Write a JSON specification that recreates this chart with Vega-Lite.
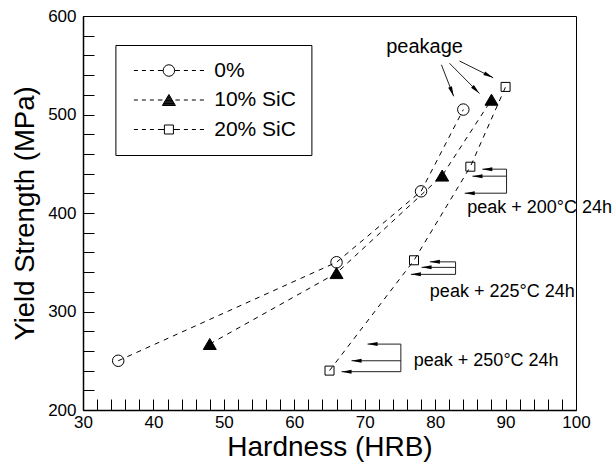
{
  "$schema": "https://vega.github.io/schema/vega-lite/v6.json",
  "width": 493,
  "height": 394,
  "autosize": "none",
  "padding": {"left": 83, "top": 16, "right": 36, "bottom": 54},
  "datasets": {
    "series": [
      {"series": "0%", "x": 35, "y": 250},
      {"series": "0%", "x": 66, "y": 350},
      {"series": "0%", "x": 78, "y": 422},
      {"series": "0%", "x": 84, "y": 505},
      {"series": "10% SiC", "x": 48, "y": 267},
      {"series": "10% SiC", "x": 66, "y": 339},
      {"series": "10% SiC", "x": 81, "y": 438},
      {"series": "10% SiC", "x": 88, "y": 515},
      {"series": "20% SiC", "x": 65, "y": 240},
      {"series": "20% SiC", "x": 77, "y": 352},
      {"series": "20% SiC", "x": 85, "y": 447},
      {"series": "20% SiC", "x": 90, "y": 528}
    ],
    "arrows": [
      {"x": 82.63, "y": 518.5, "x2": 80.89, "y2": 550.5, "dir": 68.7},
      {"x": 86.3, "y": 521.3, "x2": 82.04, "y2": 552.0, "dir": 45.3},
      {"x": 88.24, "y": 537.3, "x2": 83.46, "y2": 554.3, "dir": 26.6},
      {"x": 86.7, "y": 444.5, "x2": 90.14, "y2": 444.5, "dir": 180},
      {"x": 85.3, "y": 437.4, "x2": 90.14, "y2": 437.4, "dir": 180},
      {"x": 84.2, "y": 420.1, "x2": 90.14, "y2": 420.1, "dir": 180},
      {"x": 79.25, "y": 350.4, "x2": 82.9, "y2": 350.4, "dir": 180},
      {"x": 78.07, "y": 344.8, "x2": 82.9, "y2": 344.8, "dir": 180},
      {"x": 76.55, "y": 337.7, "x2": 82.9, "y2": 337.7, "dir": 180},
      {"x": 70.4, "y": 266.9, "x2": 75.13, "y2": 266.9, "dir": 180},
      {"x": 68.13, "y": 250.0, "x2": 75.13, "y2": 250.0, "dir": 180},
      {"x": 66.71, "y": 238.9, "x2": 75.13, "y2": 238.9, "dir": 180}
    ],
    "lines": [
      {"x": 90.14, "y": 444.5, "x2": 90.14, "y2": 420.1},
      {"x": 82.9, "y": 350.4, "x2": 82.9, "y2": 337.7},
      {"x": 75.13, "y": 266.9, "x2": 75.13, "y2": 238.9}
    ],
    "labels": [
      {"kind": "peakage", "x": 78.5, "y": 562, "text": "peakage"},
      {"kind": "treat", "x": 84.55, "y": 399.5, "text": "peak + 200°C 24h"},
      {"kind": "treat", "x": 79.25, "y": 314.9, "text": "peak + 225°C 24h"},
      {"kind": "treat", "x": 76.97, "y": 244.9, "text": "peak + 250°C 24h"}
    ]
  },
  "encoding": {
    "x": {
      "field": "x",
      "type": "quantitative",
      "scale": {"domain": [30, 100], "nice": false, "zero": false},
      "axis": {
        "title": "Hardness (HRB)",
        "titleFont": "Liberation Sans",
        "titleFontSize": 28,
        "titleFontWeight": "normal",
        "titleColor": "black",
        "titleBaseline": "alphabetic",
        "titleY": 45,
        "values": [30,32,34,36,38,40,42,44,46,48,50,52,54,56,58,60,62,64,66,68,70,72,74,76,78,80,82,84,86,88,90,92,94,96,98,100],
        "labelExpr": "datum.value % 10 === 0 ? datum.label : ''",
        "labelFont": "Liberation Sans",
        "labelFontSize": 17,
        "labelColor": "black",
        "labelPadding": 15,
        "labelFlush": false,
        "labelOverlap": false,
        "tickSize": -11,
        "tickColor": "black",
        "tickWidth": 1,
        "domainColor": "black",
        "domainWidth": 1.5,
        "grid": false,
        "encode": {"ticks": {"y2": {"value": {"expr": "datum.value % 10 === 0 ? -10 : -6"}}}}
      }
    },
    "y": {
      "field": "y",
      "type": "quantitative",
      "scale": {"domain": [200, 600], "nice": false, "zero": false},
      "axis": {
        "title": "Yield Strength (MPa)",
        "titleFont": "Liberation Sans",
        "titleFontSize": 27.5,
        "titleFontWeight": "normal",
        "titleColor": "black",
        "titleBaseline": "alphabetic",
        "titleX": -50,
        "values": [200,220,240,260,280,300,320,340,360,380,400,420,440,460,480,500,520,540,560,580,600],
        "labelExpr": "datum.value % 100 === 0 ? datum.label : ''",
        "labelFont": "Liberation Sans",
        "labelFontSize": 17,
        "labelColor": "black",
        "labelPadding": 18,
        "labelOverlap": false,
        "tickSize": -11,
        "tickColor": "black",
        "tickWidth": 1,
        "domainColor": "black",
        "domainWidth": 1.5,
        "grid": false,
        "encode": {"ticks": {"x2": {"value": {"expr": "datum.value % 100 === 0 ? 11 : 7"}}}}
      }
    }
  },
  "layer": [
    {
      "data": {"name": "series"},
      "mark": {"type": "line", "color": "black", "strokeWidth": 1, "strokeDash": [5, 5]},
      "encoding": {"detail": {"field": "series", "type": "nominal"}}
    },
    {
      "data": {"name": "series"},
      "mark": {"type": "point", "filled": true, "size": 100, "stroke": "black", "strokeWidth": 1, "opacity": 1},
      "encoding": {
        "shape": {
          "field": "series",
          "type": "nominal",
          "scale": {
            "domain": ["0%", "10% SiC", "20% SiC"],
            "range": [
              "M -1.15 0 A 1.15 1.15 0 1 0 1.15 0 A 1.15 1.15 0 1 0 -1.15 0 Z",
              "M 0 -1.1 L 1.3 1.1 L -1.3 1.1 Z",
              "M -0.9 -0.9 L 0.9 -0.9 L 0.9 0.9 L -0.9 0.9 Z"
            ]
          },
          "legend": null
        },
        "fill": {
          "field": "series",
          "type": "nominal",
          "scale": {"domain": ["0%", "10% SiC", "20% SiC"], "range": ["transparent", "black", "transparent"]},
          "legend": null
        }
      }
    },
    {
      "data": {"name": "series"},
      "mark": {"type": "point", "filled": false, "size": 100, "color": "black", "strokeWidth": 1, "opacity": 0},
      "encoding": {
        "shape": {
          "field": "series",
          "type": "nominal",
          "scale": {
            "domain": ["0%", "10% SiC", "20% SiC"],
            "range": [
              "M -7 0 L -6.2 0 M -5.4 0 L -4.6 0 M -3.8 0 L -3 0 M -2.2 0 L -1.15 0 M 1.15 0 L 2.2 0 M 3 0 L 3.8 0 M 4.6 0 L 5.4 0 M 6.2 0 L 7 0 M -1.15 0 A 1.15 1.15 0 1 0 1.15 0 A 1.15 1.15 0 1 0 -1.15 0 Z",
              "M -7 0 L -6.2 0 M -5.4 0 L -4.6 0 M -3.8 0 L -3 0 M -2.2 0 L -1.3 0 M 1.3 0 L 2.2 0 M 3 0 L 3.8 0 M 4.6 0 L 5.4 0 M 6.2 0 L 7 0 M 0 -1.1 L 1.3 1.1 L -1.3 1.1 Z M -0.09 -0.95 L 0.09 -0.95 M -0.18 -0.8 L 0.18 -0.8 M -0.27 -0.65 L 0.27 -0.65 M -0.36 -0.5 L 0.36 -0.5 M -0.44 -0.35 L 0.44 -0.35 M -0.53 -0.2 L 0.53 -0.2 M -0.62 -0.05 L 0.62 -0.05 M -0.71 0.1 L 0.71 0.1 M -0.8 0.25 L 0.8 0.25 M -0.89 0.4 L 0.89 0.4 M -0.98 0.55 L 0.98 0.55 M -1.06 0.7 L 1.06 0.7 M -1.15 0.85 L 1.15 0.85 M -1.24 1 L 1.24 1",
              "M -7 0 L -6.2 0 M -5.4 0 L -4.6 0 M -3.8 0 L -3 0 M -2.2 0 L -0.9 0 M 0.9 0 L 2.2 0 M 3 0 L 3.8 0 M 4.6 0 L 5.4 0 M 6.2 0 L 7 0 M -0.9 -0.9 L 0.9 -0.9 L 0.9 0.9 L -0.9 0.9 Z"
            ]
          },
          "legend": {
            "orient": "none",
            "legendX": 32.4,
            "legendY": 29,
            "title": null,
            "symbolSize": 100,
            "symbolOpacity": 1,
            "symbolStrokeWidth": 1,
            "symbolOffset": 28,
            "labelOffset": 34.8,
            "labelFont": "Liberation Sans",
            "labelFontSize": 21,
            "labelColor": "black",
            "strokeColor": "black",
            "padding": 15,
            "rowPadding": 7.5
          }
        }
      }
    },
    {
      "data": {"name": "arrows"},
      "mark": {"type": "rule", "color": "#222", "strokeWidth": 1},
      "encoding": {"x2": {"field": "x2"}, "y2": {"field": "y2"}}
    },
    {
      "data": {"name": "arrows"},
      "mark": {"type": "point", "shape": "M 0 0 L -2 -0.4 L -2 0.4 Z", "size": 100, "filled": true, "color": "black", "opacity": 1, "strokeWidth": 0},
      "encoding": {"angle": {"field": "dir", "type": "quantitative", "scale": null}}
    },
    {
      "data": {"name": "lines"},
      "mark": {"type": "rule", "color": "#222", "strokeWidth": 1},
      "encoding": {"x2": {"field": "x2"}, "y2": {"field": "y2"}}
    },
    {
      "data": {"name": "labels"},
      "transform": [{"filter": "datum.kind === 'peakage'"}],
      "mark": {"type": "text", "font": "Liberation Sans", "fontSize": 20, "color": "black", "align": "center", "baseline": "alphabetic"},
      "encoding": {"text": {"field": "text"}}
    },
    {
      "data": {"name": "labels"},
      "transform": [{"filter": "datum.kind === 'treat'"}],
      "mark": {"type": "text", "font": "Liberation Sans", "fontSize": 18, "color": "black", "align": "left", "baseline": "alphabetic"},
      "encoding": {"text": {"field": "text"}}
    }
  ],
  "resolve": {"scale": {"shape": "independent"}},
  "config": {
    "view": {"stroke": "black", "strokeWidth": 1},
    "background": "white"
  }
}
